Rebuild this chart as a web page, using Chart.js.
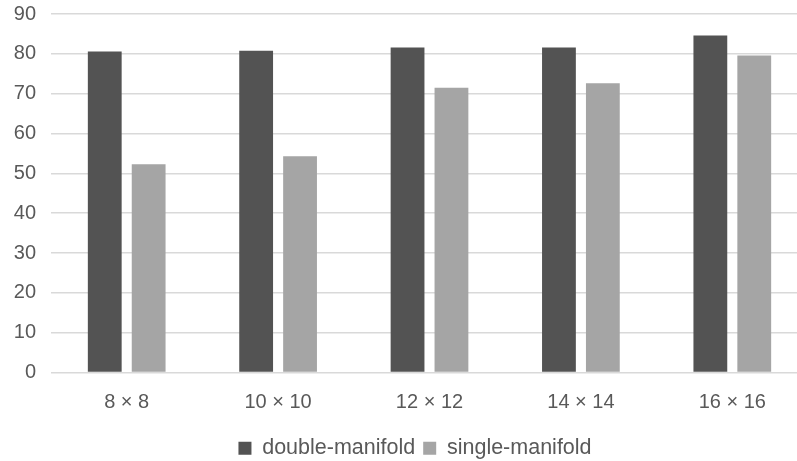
<!DOCTYPE html>
<html>
<head>
<meta charset="utf-8">
<script src="https://cdn.jsdelivr.net/npm/chart.js@4"></script>
<style>
  body { margin: 0; overflow: hidden; background: #fff; }
  #wrap { width: 830px; height: 461px; }
</style>
</head>
<body>
<div id="wrap"><canvas id="barChart" width="830" height="461"></canvas></div>
<script>
// values
const categories = ["8 × 8", "10 × 10", "12 × 12", "14 × 14", "16 × 16"];
const doubleManifold = [80.6, 80.8, 81.6, 81.6, 84.6];
const singleManifold = [52.3, 54.3, 71.5, 72.6, 79.6];
const yTicks = [0, 10, 20, 30, 40, 50, 60, 70, 80, 90];

const FONT = "'Liberation Sans', Arial, sans-serif";
const TEXT = "#595959";

// legend sits a bit right of the canvas centre in the original
const legendShift = {
    id: 'legendShift',
    afterLayout(chart) {
        chart.legend.left += 11;
        chart.legend.right += 11;
    }
};

const CHART = document.getElementById("barChart");

let barChart = new Chart(CHART, {
    type: 'bar',
    data: {
        labels: categories,
        datasets: [
            {
                label: "double-manifold",
                data: doubleManifold,
                backgroundColor: "#535353",
                categoryPercentage: 0.58,
                barPercentage: 0.77
            },
            {
                label: "single-manifold",
                data: singleManifold,
                backgroundColor: "#a5a5a5",
                categoryPercentage: 0.58,
                barPercentage: 0.77
            }
        ]
    },
    options: {
        responsive: false,
        animation: false,
        layout: {
            padding: { top: 14, right: 22, bottom: -8, left: 0 }
        },
        plugins: {
            tooltip: { enabled: false },
            legend: {
                position: 'bottom',
                labels: {
                    font: { family: FONT, size: 21.5 },
                    color: TEXT,
                    boxWidth: 13,
                    boxHeight: 13,
                    padding: 8
                }
            }
        },
        scales: {
            x: {
                afterFit: (scale) => { scale.height += 5; },
                grid: { display: false },
                border: { display: false },
                ticks: {
                    font: { family: FONT, size: 20 },
                    color: TEXT,
                    padding: 10
                }
            },
            y: {
                min: 0,
                max: 90,
                afterBuildTicks: (scale) => {
                    scale.ticks = yTicks.map(v => ({ value: v }));
                },
                afterFit: (scale) => {
                    scale.width = 51;
                    scale.paddingTop = 0;
                    scale.paddingBottom = 0;
                },
                grid: {
                    color: "#d9d9d9",
                    lineWidth: 1.5,
                    drawTicks: false
                },
                border: { display: false },
                ticks: {
                    font: { family: FONT, size: 20 },
                    color: TEXT,
                    padding: 15
                }
            }
        }
    },
    plugins: [legendShift]
});
</script>
</body>
</html>
